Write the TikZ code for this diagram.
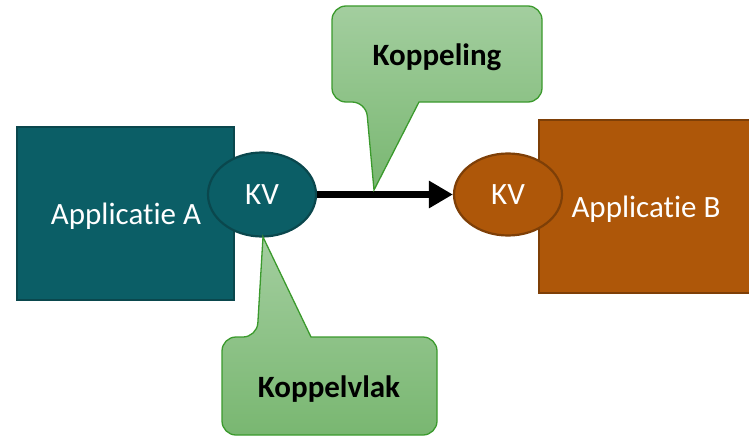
\documentclass[tikz,border=0pt]{standalone}
\usepackage{fontspec}
\setmainfont{Carlito}[Ligatures={NoCommon}]
\usetikzlibrary{arrows.meta,shapes.geometric}
\definecolor{tealfill}{HTML}{0B5E66}
\definecolor{tealline}{HTML}{0A474D}
\definecolor{brownfill}{HTML}{AE5709}
\definecolor{brownline}{HTML}{7E3F07}
\definecolor{calltop}{HTML}{A3CE9F}
\definecolor{callbot}{HTML}{79B771}
\definecolor{callline}{HTML}{3B9A2D}
\tikzset{
  bigfont/.style={font=\fontsize{31}{36}\selectfont},
  appbox/.style={rectangle, inner sep=0pt, line width=2pt, text=white, bigfont},
  kvnode/.style={ellipse, inner sep=0pt, line width=2.2pt, text=white, bigfont},
  callout/.style={top color=calltop, bottom color=callbot, draw=callline, line width=1.3pt},
  calltext/.style={text=black, font=\fontsize{31}{36}\selectfont\bfseries},
}
\begin{document}
\begin{tikzpicture}[x=1pt,y=-1pt]
\useasboundingbox (0,0) rectangle (749,436);

% applications
\node[appbox, fill=tealfill, draw=tealline, minimum width=217pt, minimum height=173pt] (appA) at (125.5,213.5) {};
\node[white, bigfont] (labA) at (126,216) {Applicatie A};
\node[appbox, fill=brownfill, draw=brownline, minimum width=217pt, minimum height=173pt] (appB) at (647.5,206.5) {};
\node[white, bigfont] (labB) at (646,209) {Applicatie B};

% interfaces
\node[kvnode, fill=tealfill, draw=tealline, minimum width=108pt, minimum height=84pt] (kvA) at (262,194.5) {KV};
\node[kvnode, fill=brownfill, draw=brownline, minimum width=108pt, minimum height=82pt] (kvB) at (508,194.5) {KV};

% coupling arrow
\draw[line width=7pt, -{Triangle[length=24pt,width=26pt]}] (kvA.east) -- (kvB.west);

% callout: Koppeling
\coordinate (tipK) at (374,190);
\path[callout, rounded corners=14pt] (419,102) -- (542,102) -- (542,6) -- (332,6) -- (332,102) -- (366,102) [sharp corners] -- (tipK) -- cycle;
\node[calltext] (koppeling) at (437,57) {Koppeling};

% callout: Koppelvlak
\coordinate (tipV) at (263,237);
\path[callout, rounded corners=14pt] (311,337) -- (437,337) -- (437,435) -- (222,435) -- (222,337) -- (257,337) [sharp corners] -- (tipV) -- cycle;
\node[calltext] (koppelvlak) at (329,389) {Koppelvlak};
\end{tikzpicture}
\end{document}
